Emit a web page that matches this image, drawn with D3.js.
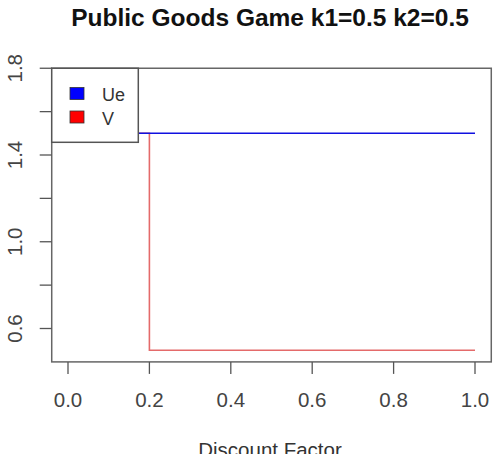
<!DOCTYPE html>
<html>
<head>
<meta charset="utf-8">
<script src="https://cdn.jsdelivr.net/npm/d3@7"></script>
<style>
body { margin: 0; background: #fff; }
text { font-family: "Liberation Sans", Arial, sans-serif; }
</style>
</head>
<body>
<div id="chart"></div>
<script>
var discount = [0, 0.2, 1.0];
var ue = [1.5, 1.5, 1.5];
var v = [1.5, 0.5, 0.5];
var xTicks = [0, 0.2, 0.4, 0.6, 0.8, 1.0];
var yTicks = [0.6, 0.8, 1.0, 1.2, 1.4, 1.6, 1.8];
var yLabels = [0.6, 1.0, 1.4, 1.8];
var legendNames = ["Ue", "V"];
var legendColors = ["#0000ff", "#ff0000"];

var svg = d3.select("#chart").append("svg")
    .attr("width", 495)
    .attr("height", 454);

var x = d3.scaleLinear().domain([0, 1]).range([68, 475]);
var y = d3.scaleLinear().domain([0.6, 1.4]).range([328.5, 155]);

var boxL = x(-0.04), boxR = x(1.04), boxT = y(1.8), boxB = y(0.446);

// title
svg.append("text")
    .attr("x", 270).attr("y", 26)
    .attr("text-anchor", "middle")
    .style("font-weight", "bold")
    .style("font-size", "24.5px")
    .attr("fill", "#111")
    .text("Public Goods Game k1=0.5 k2=0.5");

// lines
var line = function(vals) {
    return d3.line()
        .x(function(d, i) { return x(discount[i]); })
        .y(function(d) { return y(d); })
        .curve(d3.curveStepAfter)(vals);
};
svg.append("path").attr("d", line(v))
    .attr("fill", "none").attr("stroke", "#e46a6a").attr("stroke-width", 1.6);
svg.append("path").attr("d", line(ue))
    .attr("fill", "none").attr("stroke", "#1010e0").attr("stroke-width", 1.6);

// box
svg.append("rect")
    .attr("x", boxL).attr("y", boxT)
    .attr("width", boxR - boxL).attr("height", boxB - boxT)
    .attr("fill", "none").attr("stroke", "#666").attr("stroke-width", 1.5);

// x axis
svg.selectAll(".xt").data(xTicks).enter().append("line")
    .attr("x1", function(d) { return x(d); }).attr("x2", function(d) { return x(d); })
    .attr("y1", boxB).attr("y2", boxB + 12)
    .attr("stroke", "#555").attr("stroke-width", 1.3);
svg.selectAll(".xl").data(xTicks).enter().append("text")
    .attr("x", function(d) { return x(d); }).attr("y", 407)
    .attr("text-anchor", "middle")
    .style("font-size", "20.5px").attr("fill", "#444")
    .text(function(d) { return d3.format(".1f")(d); });

// y axis
svg.selectAll(".yt").data(yTicks).enter().append("line")
    .attr("x1", boxL - 12).attr("x2", boxL)
    .attr("y1", function(d) { return y(d); }).attr("y2", function(d) { return y(d); })
    .attr("stroke", "#555").attr("stroke-width", 1.3);
svg.selectAll(".yl").data(yLabels).enter().append("text")
    .attr("transform", function(d) { return "translate(22," + y(d) + ") rotate(-90)"; })
    .attr("text-anchor", "middle")
    .style("font-size", "20.5px").attr("fill", "#444")
    .text(function(d) { return d3.format(".1f")(d); });

// x axis title
svg.append("text")
    .attr("x", 270).attr("y", 457)
    .attr("text-anchor", "middle")
    .style("font-size", "20.5px").attr("fill", "#333")
    .text("Discount Factor");

// legend
var lg = svg.append("g");
lg.append("rect")
    .attr("x", boxL).attr("y", boxT)
    .attr("width", 138.3 - boxL).attr("height", 142.3 - boxT)
    .attr("fill", "#fff").attr("stroke", "#555").attr("stroke-width", 1.5);
legendNames.forEach(function(n, i) {
    lg.append("rect")
        .attr("x", 70).attr("y", 87.5 + i * 23.5)
        .attr("width", 14).attr("height", 12)
        .attr("fill", legendColors[i]).attr("stroke", "#333").attr("stroke-width", 0.8);
    lg.append("text")
        .attr("x", 102).attr("y", 101 + i * 23.5)
        .style("font-size", "18px").attr("fill", "#333")
        .text(n);
});
</script>
</body>
</html>
